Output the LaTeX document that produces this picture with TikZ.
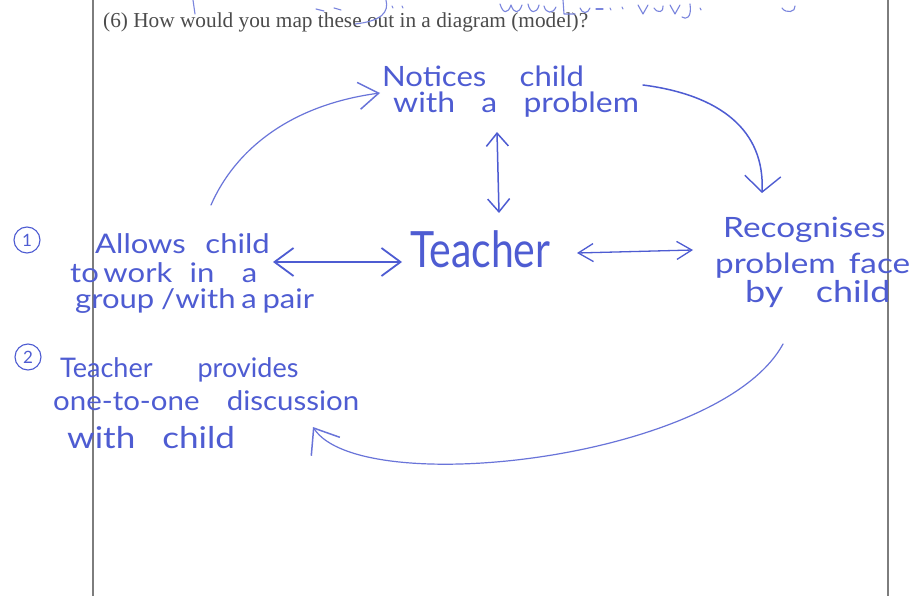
\documentclass[tikz,border=0pt]{standalone}
\usepackage{graphicx}
\usepackage{fontspec}
\setmainfont{Lato}
\newfontfamily\printedfont{Liberation Serif}
\usetikzlibrary{arrows.meta}
\definecolor{pen}{RGB}{78,92,210}
\definecolor{rulegray}{RGB}{125,125,125}
\definecolor{printgray}{RGB}{75,75,75}
\newcommand{\handsize}[1]{\fontsize{#1}{#1}\selectfont}
\begin{document}
\begin{tikzpicture}[x=1pt,y=-1pt,
  hw/.style={text=pen, inner sep=0pt, anchor=base west},
  ink/.style={draw=pen, line width=1.5pt, line cap=round, line join=round},
  soft/.style={draw=pen!85, line width=1.2pt, line cap=round, line join=round},
  scrib/.style={draw=pen!75, line width=1.1pt, line cap=round, line join=round},
  numcirc/.style={circle, draw=pen, line width=1.1pt, text=pen, inner sep=0pt, minimum size=26pt, font=\handsize{17}},
  rulepen/.style={draw=rulegray, line width=1.2pt}
]
\useasboundingbox[fill=white] (0,0) rectangle (910,596);

% page rules
\draw[rulepen] (93,0) -- (93,596);
\draw[rulepen] (888,0) -- (888,596);

% printed question
\node[anchor=base west, inner sep=0pt, text=printgray, font=\printedfont\fontsize{21.3}{21.3}\selectfont] (question) at (103,28) {(6) How would you map these out in a diagram (model)?};

% cut-off handwriting at top edge
\draw[scrib] (193,0) -- (195,14);
\draw[scrib] (316,9) -- (324,11);
\draw[scrib] (334,8) -- (341,10);
\draw[scrib] (386,0) .. controls (389,12) and (382,21) .. (355,24);
\draw[scrib] (392,6) -- (393,8);
\draw[scrib] (402,6) -- (403,8);
\draw[scrib] (500,4) .. controls (503,14) and (508,14) .. (511,5) .. controls (514,14) and (519,14) .. (522,5);
\draw[scrib] (528,4) .. controls (530,14) and (537,14) .. (539,5);
\draw[scrib] (544,6) .. controls (546,14) and (553,14) .. (556,7);
\draw[scrib] (563,0) -- (564,14) -- (575,14);
\draw[scrib] (580,8) .. controls (582,14) and (588,14) .. (590,8);
\draw[scrib] (596,9) -- (603,9);
\draw[scrib] (610,8) -- (611,10);
\draw[scrib] (622,7) -- (623,9);
\draw[scrib] (638,5) -- (643,14) -- (648,5);
\draw[scrib] (654,8) .. controls (658,14) and (664,12) .. (663,6);
\draw[scrib] (670,5) -- (675,14) -- (680,5);
\draw[scrib] (690,4) .. controls (692,18) and (686,20) .. (682,17);
\draw[scrib] (700,8) -- (701,10);
\draw[scrib] (782,8) .. controls (786,14) and (796,12) .. (795,6);

% handwritten nodes
\node[hw, font=\handsize{28}] (notA) at (382,87) {\scalebox{1.11}[1]{Notices\hspace{30pt}child}};
\node[hw, font=\handsize{28}] (notB) at (393,113) {\scalebox{1.14}[1]{with\hspace{23pt}a\hspace{23pt}problem}};

\node[hw, font=\handsize{41}] (teacher) at (410,267) {\scalebox{1}[1.22]{Teacher}};

\node[hw, font=\handsize{28}] (recA) at (723,237) {\scalebox{1.19}[1]{Recognises}};
\node[hw, font=\handsize{28}] (recB) at (715,273) {\scalebox{1.19}[1]{problem\hspace{11pt}face}};
\node[hw, font=\handsize{30}] (recC) at (745,302) {\scalebox{1.2}[1]{by\hspace{27pt}child}};

\node[numcirc] (one) at (27,240) {1};
\node[hw, font=\handsize{27}] (allA) at (95,253) {\scalebox{1.15}[1]{Allows\hspace{17pt}child}};
\node[hw, font=\handsize{27}] (allB) at (70,282) {\scalebox{1.15}[1]{to\hspace{4pt}work\hspace{15pt}in\hspace{24pt}a}};
\node[hw, font=\handsize{27}] (allC) at (75,308) {\scalebox{1.15}[1]{group\hspace{6pt}/with\hspace{5pt}a\hspace{5pt}pair}};

\node[numcirc] (two) at (28,357) {2};
\node[hw, font=\handsize{27}] (provA) at (60,377) {Teacher\hspace{45pt}provides};
\node[hw, font=\handsize{27}] (provB) at (53,410) {\scalebox{1.09}[1]{one-to-one\hspace{25pt}discussion}};
\node[hw, font=\handsize{30}] (provC) at (67,448) {\scalebox{1.17}[1]{with\hspace{23pt}child}};

% connector end points
\coordinate (c1s) at (211,205);
\coordinate (c1e) at (380,93);
\coordinate (c2s) at (643,85);
\coordinate (c2e) at (762,193);
\coordinate (c3s) at (783,344);
\coordinate (c3e) at (313,427);
\coordinate (vTop) at (497,132);
\coordinate (vBot) at (499,213);
\coordinate (hL1) at (273,262);
\coordinate (hL2) at (402,262);
\coordinate (hR1) at (577,253);
\coordinate (hR2) at (693,250);

% connectors
\draw[soft, arrows={-Straight Barb[length=20pt,width=27pt,line width=1.5pt]}]
  (c1s) .. controls (235,150) and (290,105) .. (c1e);
\draw[ink, arrows={-Straight Barb[length=16pt,width=36pt,line width=1.4pt]}]
  (c2s) .. controls (720,95) and (765,130) .. (c2e);
\draw[soft, arrows={-Straight Barb[length=22pt,width=34pt,line width=1.5pt]}]
  (c3s) .. controls (720,460) and (360,500) .. (c3e);
\draw[ink, arrows={Straight Barb[length=13pt,width=22pt]-Straight Barb[length=13pt,width=22pt]}]
  (vTop) -- (vBot);
\draw[ink, line width=1.8pt, arrows={Straight Barb[length=19pt,width=28pt]-Straight Barb[length=19pt,width=28pt]}]
  (hL1) -- (hL2);
\draw[ink, line width=1.3pt, arrows={Straight Barb[length=15pt,width=18pt]-Straight Barb[length=15pt,width=18pt]}]
  (hR1) -- (hR2);
\end{tikzpicture}
\end{document}
